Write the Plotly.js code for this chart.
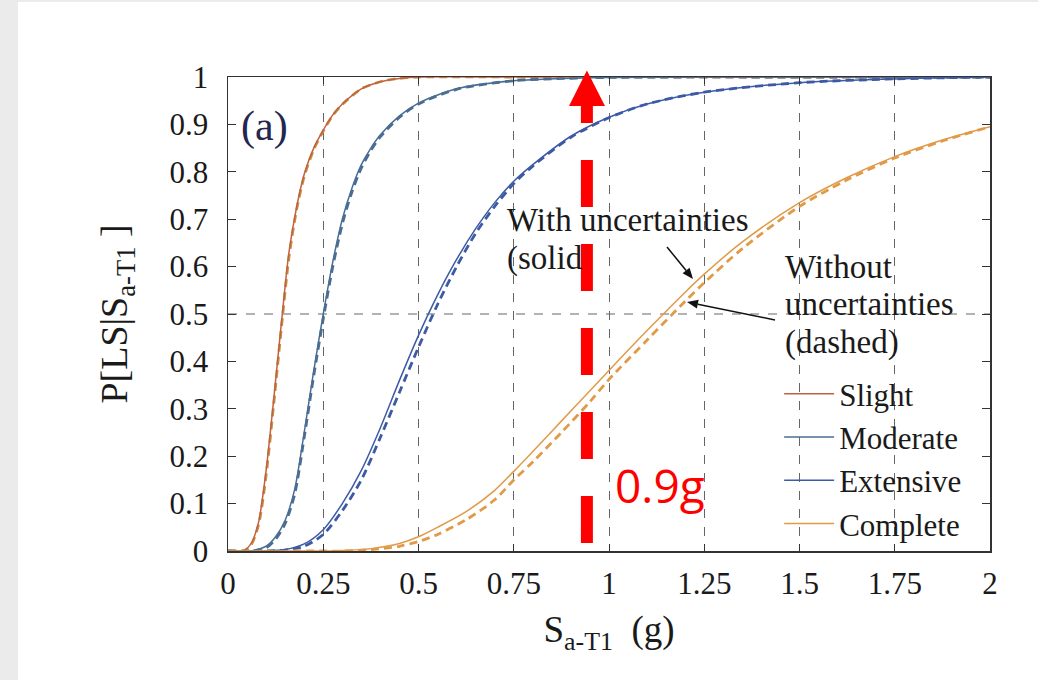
<!DOCTYPE html>
<html>
<head>
<meta charset="utf-8">
<script src="https://cdn.plot.ly/plotly-3.0.1.min.js"></script>
<style>html,body{margin:0;padding:0;background:#ebebeb;}#chart{width:1038px;height:680px;}</style>
</head>
<body>
<div id="chart"></div>
<script>
// ---- data ----
const slightX   = [0, 0.04, 0.06, 0.08, 0.1, 0.12, 0.14, 0.16, 0.18, 0.2, 0.225, 0.25, 0.275, 0.3, 0.35, 0.4, 0.45, 0.5, 0.75, 1, 1.5, 2];
const slightSolid  = [0, 0, 0.015, 0.06, 0.17, 0.32, 0.48, 0.63, 0.725, 0.795, 0.85, 0.888, 0.92, 0.943, 0.975, 0.99, 0.997, 1, 1, 1, 1, 1];
const slightDashed = [0, 0, 0.012, 0.055, 0.16, 0.31, 0.47, 0.62, 0.72, 0.79, 0.847, 0.886, 0.919, 0.942, 0.975, 0.99, 0.997, 1, 1, 1, 1, 1];

const moderateX = [0, 0.06, 0.1, 0.125, 0.15, 0.175, 0.2, 0.225, 0.25, 0.275, 0.3, 0.325, 0.35, 0.375, 0.4, 0.45, 0.5, 0.6, 0.75, 1, 1.5, 2];
const moderateSolid  = [0, 0, 0.01, 0.03, 0.065, 0.13, 0.25, 0.38, 0.50, 0.61, 0.70, 0.765, 0.815, 0.85, 0.878, 0.918, 0.945, 0.975, 0.992, 0.999, 1, 1];
const moderateDashed = [0, 0, 0.007, 0.025, 0.058, 0.12, 0.24, 0.37, 0.49, 0.60, 0.69, 0.757, 0.808, 0.845, 0.874, 0.915, 0.943, 0.974, 0.992, 0.999, 1, 1];

const extensiveX = [0, 0.1, 0.15, 0.2, 0.25, 0.3, 0.35, 0.4, 0.45, 0.5, 0.55, 0.6, 0.65, 0.7, 0.75, 0.8, 0.9, 1.0, 1.1, 1.25, 1.5, 1.75, 2];
const extensiveSolid  = [0, 0, 0.003, 0.015, 0.045, 0.10, 0.17, 0.26, 0.36, 0.455, 0.54, 0.615, 0.68, 0.735, 0.78, 0.815, 0.875, 0.915, 0.943, 0.968, 0.988, 0.996, 1];
const extensiveDashed = [0, 0, 0.002, 0.01, 0.035, 0.085, 0.15, 0.24, 0.335, 0.43, 0.52, 0.60, 0.67, 0.727, 0.775, 0.812, 0.873, 0.914, 0.943, 0.968, 0.988, 0.996, 1];

const completeX = [0, 0.25, 0.3, 0.375, 0.45, 0.5, 0.55, 0.625, 0.7, 0.75, 0.8, 0.875, 0.95, 1.0, 1.1, 1.2, 1.25, 1.35, 1.5, 1.625, 1.75, 1.875, 2];
const completeSolid  = [0, 0, 0.001, 0.005, 0.016, 0.03, 0.05, 0.083, 0.128, 0.168, 0.21, 0.274, 0.338, 0.381, 0.465, 0.546, 0.584, 0.652, 0.735, 0.788, 0.832, 0.867, 0.895];
const completeDashed = [0, 0, 0, 0.003, 0.01, 0.02, 0.035, 0.066, 0.108, 0.15, 0.188, 0.25, 0.315, 0.362, 0.445, 0.527, 0.566, 0.638, 0.727, 0.783, 0.829, 0.865, 0.895];

const seriesNames = ['Slight', 'Moderate', 'Extensive', 'Complete'];
const xTickVals = [0, 0.25, 0.5, 0.75, 1, 1.25, 1.5, 1.75, 2];
const xTickText = ['0', '0.25', '0.5', '0.75', '1', '1.25', '1.5', '1.75', '2'];
const yTickVals = [0, 0.1, 0.2, 0.3, 0.4, 0.5, 0.6, 0.7, 0.8, 0.9, 1];
const yTickText = ['0', '0.1', '0.2', '0.3', '0.4', '0.5', '0.6', '0.7', '0.8', '0.9', '1'];
const markerX = 0.942; // red arrow position (g)

// ---- styles ----
const solidColors  = ['#c0623f', '#4a6d94', '#3d5aa5', '#e09a48'];
const dashedColors = ['#c98f45', '#4a6d94', '#3d5aa5', '#e09a48'];
const xs = [slightX, moderateX, extensiveX, completeX];
const solids = [slightSolid, moderateSolid, extensiveSolid, completeSolid];
const dasheds = [slightDashed, moderateDashed, extensiveDashed, completeDashed];

const traces = [];
for (let i = 0; i < 4; i++) {
  traces.push({
    x: xs[i], y: dasheds[i], type: 'scatter', mode: 'lines', showlegend: false,
    line: {color: dashedColors[i], width: 2.8, dash: '8px,5px', shape: 'spline', smoothing: 0.8},
    hoverinfo: 'skip'
  });
}
for (let i = 0; i < 4; i++) {
  traces.push({
    x: xs[i], y: solids[i], type: 'scatter', mode: 'lines', name: seriesNames[i],
    line: {color: solidColors[i], width: 1.5, shape: 'spline', smoothing: 0.8}
  });
}

const serif = 'Liberation Serif, Times New Roman, serif';
const txt = (text, x, y, size) => ({x: x, y: y, xref: 'x', yref: 'y', xanchor: 'left', yanchor: 'middle',
  showarrow: false, text: text, font: {family: serif, size: size, color: '#1a1a1a'}});

// pointer arrows (tail -> head) in data coordinates, drawn as shapes
const PXX = 381, PXY = 474; // pixels per data unit on x and y
function arrowShapes(tx, ty, hx, hy) {
  const dx = (hx - tx) * PXX, dy = (hy - ty) * PXY;
  const len = Math.hypot(dx, dy), ux = dx / len, uy = dy / len;
  const L = 11, W = 4.5;
  const bx = hx - ux * L / PXX, by = hy - uy * L / PXY;
  const p1x = bx + (-uy) * W / PXX, p1y = by + ux * W / PXY;
  const p2x = bx - (-uy) * W / PXX, p2y = by - ux * W / PXY;
  return [
    {type: 'line', xref: 'x', yref: 'y', x0: tx, y0: ty, x1: bx, y1: by, line: {color: '#111', width: 1.5}},
    {type: 'path', xref: 'x', yref: 'y', path: `M ${hx} ${hy} L ${p1x} ${p1y} L ${p2x} ${p2y} Z`,
     fillcolor: '#111', line: {width: 0}}
  ];
}

const layout = {
  width: 1038, height: 680,
  paper_bgcolor: '#ebebeb', plot_bgcolor: 'rgba(0,0,0,0)',
  margin: {l: 228, r: 48, t: 77, b: 129, pad: 0},
  font: {family: serif, color: '#1a1a1a', size: 30},
  showlegend: true,
  legend: {
    x: 0.97, y: 0.0, xanchor: 'right', yanchor: 'bottom',
    bgcolor: 'rgba(0,0,0,0)', borderwidth: 0,
    font: {family: serif, size: 31, color: '#1a1a1a'},
    itemwidth: 50, tracegroupgap: 0
  },
  xaxis: {
    range: [0, 2], tickvals: xTickVals, ticktext: xTickText,
    showline: true, linecolor: '#333', linewidth: 1.5, mirror: 'ticks',
    ticks: 'inside', ticklen: 7, tickcolor: '#333',
    showgrid: true, gridcolor: '#666', griddash: 'dash', gridwidth: 1,
    zeroline: false, tickfont: {family: serif, size: 31, color: '#1a1a1a'},
    ticklabelstandoff: 4,
    title: {text: 'S<sub>a-T1</sub>  (g)', font: {family: serif, size: 37, color: '#1a1a1a'}, standoff: 16}
  },
  yaxis: {
    range: [0, 1], tickvals: yTickVals, ticktext: yTickText,
    showline: true, linecolor: '#333', linewidth: 1.5, mirror: 'ticks',
    ticks: 'inside', ticklen: 8, tickcolor: '#333',
    showgrid: false, zeroline: false,
    tickfont: {family: serif, size: 31, color: '#1a1a1a'},
    ticklabelstandoff: 12,
    title: {text: 'P[LS|S<sub>a-T1</sub> ]', font: {family: serif, size: 38, color: '#1a1a1a'}, standoff: 30}
  },
  shapes: [
    {type: 'rect', xref: 'paper', yref: 'paper', x0: -0.2756, x1: 1.1, y0: -0.3, y1: 1.1582,
     fillcolor: '#ffffff', line: {width: 0}, layer: 'below'},
    {type: 'line', xref: 'paper', yref: 'y', x0: 0, x1: 1, y0: 0.5, y1: 0.5,
     line: {color: '#666', width: 1, dash: 'dash'}, layer: 'below'},
    {type: 'line', xref: 'x', yref: 'paper', x0: markerX, x1: markerX, y0: 0.0169, y1: 0.939,
     line: {color: '#ff0000', width: 12, dash: '47px,37px'}, layer: 'above'},
    {type: 'path', xref: 'x', yref: 'paper',
     path: 'M 0.895 0.939 L 0.9895 0.939 L ' + markerX + ' 1.0135 Z',
     fillcolor: '#ff0000', line: {width: 0}, layer: 'above'}
  ].concat(arrowShapes(1.1522, 0.6414, 1.2205, 0.5738), arrowShapes(1.4357, 0.4873, 1.2047, 0.5253)),
  annotations: [
    Object.assign(txt('(a)', 0.028, 0.895, 42), {font: {family: serif, size: 42, color: '#23274f'}}),
    txt('With uncertainties', 0.727, 0.698, 33),
    txt('(solid', 0.727, 0.618, 33),
    txt('Without', 1.457, 0.599, 33),
    txt('uncertainties', 1.457, 0.521, 33),
    txt('(dashed)', 1.457, 0.439, 33),
    {x: 1.0105, y: 0.139, xref: 'x', yref: 'y', xanchor: 'left', yanchor: 'middle', showarrow: false,
     text: '0.9g', font: {family: 'Open Sans, DejaVu Sans, sans-serif', size: 46, color: '#ff0000'}}
  ]
};

Plotly.newPlot('chart', traces, layout, {staticPlot: true, displayModeBar: false});
</script>
</body>
</html>
